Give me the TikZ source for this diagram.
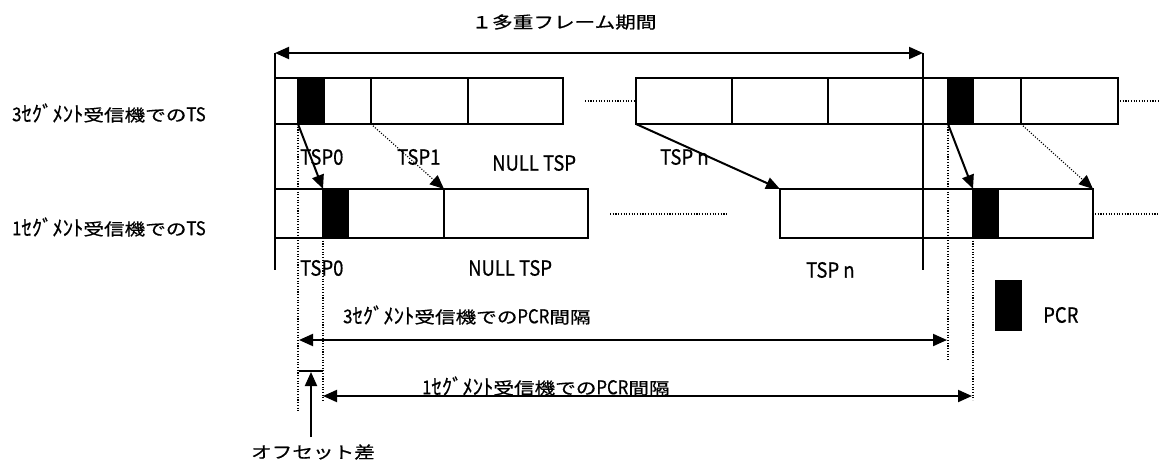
\documentclass[tikz,border=0pt]{standalone}
\usepackage{fontspec}
\setmainfont[FakeStretch=1.25,FakeBold=0.6]{Noto Sans CJK JP}
\newfontfamily\latfont[FakeStretch=0.88,FakeBold=0.6]{Noto Sans CJK JP}
\usetikzlibrary{arrows.meta}
% half-width kana and latin parts, set taller
\newcommand{\hkana}[1]{\raisebox{-0.5pt}{\scalebox{1}[1.3]{#1}}}
\newcommand{\lat}[1]{{\latfont\fontsize{19}{20}\selectfont #1}}
\tikzset{
	slot/.style={draw,line width=2pt},
	pcrmark/.style={draw,fill=black,line width=2pt},
	dotline/.style={line width=1.1pt,dash pattern=on 1.1pt off 1.6pt},
	arr/.style={line width=2pt,-{Triangle[length=14pt,width=12pt]}},
	lbl/.style={inner sep=0pt,anchor=west,font=\fontsize{16.5}{18}\selectfont},
	tsplbl/.style={inner sep=0pt,anchor=west,font=\latfont\fontsize{21}{22}\selectfont}
}
\begin{document}
\begin{tikzpicture}[x=1pt,y=-1pt]
	\useasboundingbox[fill=white] (0,0) rectangle (1159,463);
	% row labels and title
	\node[lbl,anchor=center] (title) at (564,22) {１多重フレーム期間};
	\node[lbl] (ts3) at (12,113) {\lat{3}\hkana{ｾｸﾞﾒﾝﾄ}受信機での\lat{TS}};
	\node[lbl] (ts1) at (12,227) {\lat{1}\hkana{ｾｸﾞﾒﾝﾄ}受信機での\lat{TS}};
	% 3 segment row
	\draw[slot] (275,78) rectangle (563,124);
	\foreach \x in {371,468} \draw[slot] (\x,78)--(\x,124);
	\draw[pcrmark] (298,78) rectangle (324,124);
	\draw[slot] (636,78) rectangle (1118,124);
	\foreach \x in {732,828,1021} \draw[slot] (\x,78)--(\x,124);
	\draw[pcrmark] (948,78) rectangle (973,124);
	\draw[dotline] (585,101)--(634,101);
	\draw[dotline] (1120,101)--(1159,101);
	% 1 segment row
	\draw[slot] (275,189) rectangle (588,238);
	\draw[slot] (444,189)--(444,238);
	\draw[pcrmark] (323,189) rectangle (348,238);
	\draw[slot] (780,189) rectangle (1093,238);
	\draw[pcrmark] (973,189) rectangle (998,238);
	\draw[dotline] (610,214)--(728,214);
	\draw[dotline] (1095,214)--(1159,214);
	% multiplex frame
	\coordinate (fl) at (275,53);
	\coordinate (fr) at (923,53);
	\draw[line width=1.5pt] (fl)--(275,270);
	\draw[line width=1.5pt] (fr)--(923,270);
	\draw[line width=2pt,{Triangle[length=14pt,width=12pt]}-{Triangle[length=14pt,width=12pt]}] (fl)--(fr);
	% packet mapping
	\coordinate (a0) at (298,124); \coordinate (b0) at (323,189);
	\coordinate (a1) at (371,124); \coordinate (b1) at (444,189);
	\coordinate (an) at (636,124); \coordinate (bn) at (780,189);
	\coordinate (a2) at (948,124); \coordinate (b2) at (973,189);
	\coordinate (a3) at (1021,124); \coordinate (b3) at (1093,189);
	\draw[arr] (a0)--(b0);
	\draw[arr,dotline] (a1)--(b1);
	\draw[arr] (an)--(bn);
	\draw[arr] (a2)--(b2);
	\draw[arr,dotline] (a3)--(b3);
	\node[tsplbl] (tsp0a) at (300,157) {TSP0};
	\node[tsplbl] (tsp1) at (397,157) {TSP1};
	\node[tsplbl] (nulla) at (492,163) {NULL TSP};
	\node[tsplbl] (tspna) at (660,157) {TSP n};
	\node[tsplbl] (tsp0b) at (300,268) {TSP0};
	\node[tsplbl] (nullb) at (468,268) {NULL TSP};
	\node[tsplbl] (tspnb) at (806,270) {TSP n};
	% PCR intervals
	\coordinate (i3l) at (299,340); \coordinate (i3r) at (947,340);
	\coordinate (i1l) at (323,396); \coordinate (i1r) at (972,396);
	\draw[dotline] (a0)--(298,412);
	\draw[dotline] (323,238)--(323,402);
	\draw[dotline] (a2)--(948,360);
	\draw[dotline] (973,238)--(973,400);
	\draw[line width=2pt,{Triangle[length=14pt,width=12pt]}-{Triangle[length=14pt,width=12pt]}] (i3l)--(i3r);
	\draw[line width=2pt,{Triangle[length=14pt,width=12pt]}-{Triangle[length=14pt,width=12pt]}] (i1l)--(i1r);
	\node[lbl] (int3) at (343,315) {\lat{3}\hkana{ｾｸﾞﾒﾝﾄ}受信機での\lat{PCR}間隔};
	\node[lbl] (int1) at (422,386) {\lat{1}\hkana{ｾｸﾞﾒﾝﾄ}受信機での\lat{PCR}間隔};
	% offset
	\coordinate (ofl) at (299,371); \coordinate (ofr) at (323,371);
	\draw[line width=1.5pt] (ofl)--(ofr);
	\node[lbl,anchor=center] (offset) at (313,452) {オフセット差};
	\coordinate (ofb) at (311,437); \coordinate (oft) at (311,372);
	\draw[arr] (ofb)--(oft);
	% legend
	\draw[fill=black] (995,280) rectangle (1021,330);
	\node[tsplbl] (pcr) at (1043,315) {PCR};
\end{tikzpicture}
\end{document}
